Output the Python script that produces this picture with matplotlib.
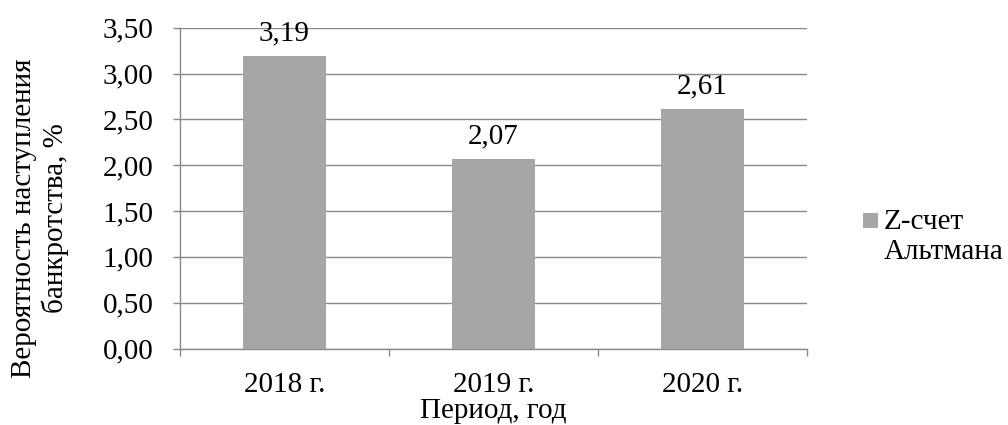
import matplotlib
matplotlib.use("Agg")
from matplotlib import pyplot as plt
from matplotlib.ticker import FixedLocator, FuncFormatter
from matplotlib.patches import Rectangle

# Altman Z-score by year
years = ["2018 г.", "2019 г.", "2020 г."]
z_score = [3.19, 2.07, 2.61]
series_name = "Z-счет\nАльтмана"

FONT = ["Liberation Serif", "DejaVu Serif"]
FS = 21
plt.rcParams["font.family"] = FONT
plt.rcParams["font.size"] = FS

GRID = "#898989"
BAR = "#a6a6a6"
W, H = 1008, 425

fig = plt.figure(figsize=(W / 100, H / 100), dpi=100)
ax = fig.add_axes([0.1786, 0.18, 0.622, 0.7548])

x = range(len(years))
bars = ax.bar(x, z_score, width=0.4, color=BAR, zorder=3)
for rect, v in zip(bars, z_score):
    ax.annotate(f"{v:.2f}".replace(".", ","),
                (rect.get_x() + rect.get_width() / 2, v),
                xytext=(0, 7), textcoords="offset points",
                ha="center", va="bottom", fontsize=FS)

ax.set_xlim(-0.5, len(years) - 0.5)
ax.set_ylim(0, 3.5)
ax.set_yticks([i * 0.5 for i in range(8)])
ax.yaxis.set_major_formatter(FuncFormatter(lambda v, _: f"{v:.2f}".replace(".", ",")))
ax.grid(axis="y", color=GRID, linewidth=1.0, zorder=0)

# categories labelled at centres, tick marks at boundaries
ax.set_xticks(list(x))
ax.set_xticklabels(years)
ax.xaxis.set_minor_locator(FixedLocator([i - 0.5 for i in range(len(years) + 1)]))
ax.tick_params(axis="x", which="major", length=0, pad=17)
ax.tick_params(axis="x", which="minor", length=5, color=GRID, width=1.0)
ax.tick_params(axis="y", length=5, color=GRID, width=1.0, pad=14)

for side in ["top", "right"]:
    ax.spines[side].set_visible(False)
for side in ["left", "bottom"]:
    ax.spines[side].set_color(GRID)
    ax.spines[side].set_linewidth(1.0)

ax.set_xlabel("Период, год", labelpad=0)
fig.text(40 / W, 1 - 218 / H, "Вероятность наступления\nбанкротства, %",
         rotation=90, ha="center", va="center", fontsize=FS, linespacing=1.2)

# legend: grey square and a two-line series name
fig.patches.append(Rectangle((863 / W, 1 - 228 / H), 15 / W, 15 / H,
                             transform=fig.transFigure, facecolor=BAR,
                             edgecolor="none"))
fig.text(884 / W, 1 - 237 / H, series_name, ha="left", va="center",
         family=FONT, fontsize=FS, linespacing=1.2)

fig.savefig("out.png", dpi=100)
